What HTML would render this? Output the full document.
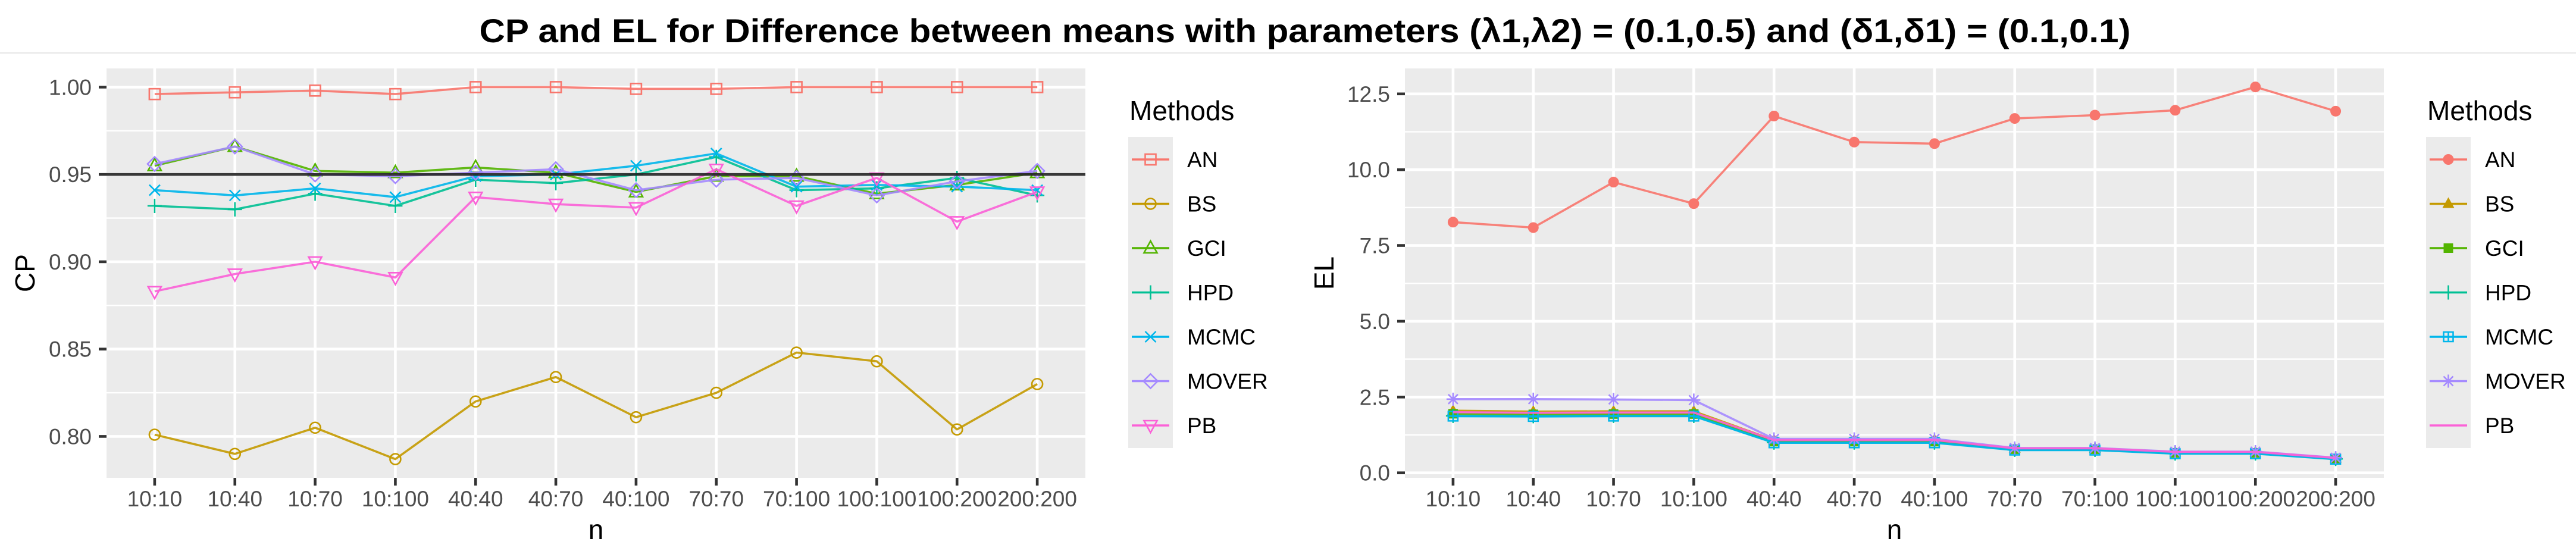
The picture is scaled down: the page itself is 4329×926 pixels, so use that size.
<!DOCTYPE html>
<html><head><meta charset="utf-8"><style>
html,body{margin:0;padding:0;background:#fff;}
svg{display:block;font-family:"Liberation Sans",Arial,sans-serif;}
</style></head><body>
<svg id="chart" width="4329" height="926" viewBox="0 0 4329 926" xmlns="http://www.w3.org/2000/svg">
<rect x="0" y="0" width="4329" height="926" fill="#fff"/>
<text x="2193" y="71" text-anchor="middle" font-size="56" font-weight="bold" textLength="2775" lengthAdjust="spacingAndGlyphs" fill="#000">CP and EL for Difference between means with parameters (λ1,λ2) = (0.1,0.5) and (δ1,δ1) = (0.1,0.1)</text>
<line x1="0" y1="89" x2="4329" y2="89" stroke="#e6e6e6" stroke-width="2"/>
<g id="left"></g>
<g id="right"></g>
</svg>
<script>
const categories = ["10:10","10:40","10:70","10:100","40:40","40:70","40:100","70:70","70:100","100:100","100:200","200:200"];
const methods = ["AN","BS","GCI","HPD","MCMC","MOVER","PB"];
const colors = ["#F8766D","#C49A00","#53B400","#00C094","#00B6EB","#A58AFF","#FB61D7"];
const cpAN    = [0.996,0.997,0.998,0.996,1.000,1.000,0.999,0.999,1.000,1.000,1.000,1.000];
const cpBS    = [0.801,0.790,0.805,0.787,0.820,0.834,0.811,0.825,0.848,0.843,0.804,0.830];
const cpGCI   = [0.955,0.966,0.952,0.951,0.954,0.951,0.940,0.949,0.949,0.939,0.944,0.951];
const cpHPD   = [0.932,0.930,0.939,0.932,0.947,0.945,0.950,0.960,0.941,0.942,0.948,0.938];
const cpMCMC  = [0.941,0.938,0.942,0.937,0.949,0.950,0.955,0.962,0.943,0.944,0.943,0.941];
const cpMOVER = [0.956,0.966,0.950,0.949,0.951,0.953,0.941,0.947,0.948,0.938,0.946,0.952];
const cpPB    = [0.883,0.893,0.900,0.891,0.937,0.933,0.931,0.953,0.932,0.948,0.923,0.940];
const elAN    = [8.27,8.09,9.59,8.88,11.77,10.91,10.86,11.69,11.80,11.96,12.73,11.93];
const elBS    = [2.05,2.02,2.03,2.03,1.08,1.08,1.08,0.80,0.80,0.68,0.68,0.48];
const elGCI   = [1.95,1.93,1.94,1.94,1.03,1.03,1.03,0.78,0.78,0.66,0.66,0.47];
const elHPD   = [1.88,1.87,1.88,1.88,1.00,1.00,1.00,0.76,0.76,0.64,0.64,0.46];
const elMCMC  = [1.87,1.86,1.87,1.87,0.99,0.99,0.99,0.75,0.75,0.63,0.63,0.45];
const elMOVER = [2.43,2.43,2.42,2.40,1.12,1.12,1.12,0.82,0.82,0.70,0.70,0.50];
const elPB    = [2.00,1.98,1.99,1.99,1.08,1.08,1.08,0.81,0.81,0.69,0.69,0.49];
const cpTicks = [0.80,0.85,0.90,0.95,1.00];
const cpTickLabels = ["0.80","0.85","0.90","0.95","1.00"];
const cpMinor = [0.825,0.875,0.925,0.975];
const elTicks = [0,2.5,5,7.5,10,12.5];
const elTickLabels = ["0.0","2.5","5.0","7.5","10.0","12.5"];
const elMinor = [1.25,3.75,6.25,8.75,11.25];
const cpRef = 0.95;

const NS = "http://www.w3.org/2000/svg";
function mk(parent, tag, attrs, text){
  const e = document.createElementNS(NS, tag);
  for (const k in attrs) e.setAttribute(k, attrs[k]);
  if (text !== undefined) e.textContent = text;
  parent.appendChild(e);
  return e;
}
function drawShape(g, shape, cx, cy, col){
  const s = {stroke: col, "stroke-width": 2.6, fill: "none"};
  if (shape === "sq") return mk(g,"rect",Object.assign({x:cx-9,y:cy-9,width:18,height:18},s));
  if (shape === "ci") return mk(g,"circle",Object.assign({cx:cx,cy:cy,r:9},s));
  if (shape === "tu") return mk(g,"polygon",Object.assign({points:`${cx},${cy-12} ${cx+11},${cy+8} ${cx-11},${cy+8}`},s));
  if (shape === "td") return mk(g,"polygon",Object.assign({points:`${cx},${cy+12} ${cx+11},${cy-8} ${cx-11},${cy-8}`},s));
  if (shape === "pl") return mk(g,"path",Object.assign({d:`M${cx-12},${cy}H${cx+12}M${cx},${cy-12}V${cy+12}`},s));
  if (shape === "x") return mk(g,"path",Object.assign({d:`M${cx-9},${cy-9}L${cx+9},${cy+9}M${cx-9},${cy+9}L${cx+9},${cy-9}`},s));
  if (shape === "di") return mk(g,"polygon",Object.assign({points:`${cx},${cy-12} ${cx+12},${cy} ${cx},${cy+12} ${cx-12},${cy}`},s));
  if (shape === "fc") return mk(g,"circle",{cx:cx,cy:cy,r:9,fill:col});
  if (shape === "ft") return mk(g,"polygon",{points:`${cx},${cy-11} ${cx+10},${cy+7} ${cx-10},${cy+7}`,fill:col});
  if (shape === "fs") return mk(g,"rect",{x:cx-8,y:cy-8,width:16,height:16,fill:col});
  if (shape === "sp") return mk(g,"path",Object.assign({d:`M${cx-8},${cy-8}h16v16h-16zM${cx-8},${cy}H${cx+8}M${cx},${cy-8}V${cy+8}`},s));
  if (shape === "as") return mk(g,"path",Object.assign({d:`M${cx-11},${cy}H${cx+11}M${cx},${cy-11}V${cy+11}M${cx-8},${cy-8}L${cx+8},${cy+8}M${cx-8},${cy+8}L${cx+8},${cy-8}`},s));
  return null;
}

function panel(g, cfg){
  const L=cfg.left, R=cfg.right, T=115, B=803;
  const n = categories.length;
  const xs = (i)=> L + (R-L)*(0.6 + i)/(n + 0.2);
  const ys = (v)=> B - (v - cfg.ymin)/(cfg.ymax - cfg.ymin)*(B-T);
  const bg = mk(g,"rect",{x:L,y:T,width:R-L,height:B-T,fill:"#EBEBEB"});
  
  
  cfg.minor.forEach(v=>{
    const l = mk(g,"line",{x1:L,x2:R,y1:ys(v),y2:ys(v),stroke:"#fff","stroke-width":2.4});
    
    
  });
  cfg.ticks.forEach((v,i)=>{
    const y = ys(v);
    const l = mk(g,"line",{x1:L,x2:R,y1:y,y2:y,stroke:"#fff","stroke-width":4.6});
    
    
    const t = mk(g,"line",{x1:L-13,x2:L,y1:y,y2:y,stroke:"#333","stroke-width":4.6});
    
    
    const tx = mk(g,"text",{x:L-25,y:y+13,"text-anchor":"end","font-size":37,fill:"#4D4D4D"},cfg.tickLabels[i]);
    
    
  });
  categories.forEach((c,i)=>{
    const x = xs(i);
    const l = mk(g,"line",{x1:x,x2:x,y1:T,y2:B,stroke:"#fff","stroke-width":4.6});
    
    
    const t = mk(g,"line",{x1:x,x2:x,y1:B,y2:B+13,stroke:"#333","stroke-width":4.6});
    
    
    const tx = mk(g,"text",{x:x,y:851,"text-anchor":"middle","font-size":37,fill:"#4D4D4D"},c);
    
    
  });
  cfg.series.forEach((vals,k)=>{
    const col = colors[k];
    const sg = mk(g,"g",{});
    
    
    const pts = vals.map((v,i)=> xs(i).toFixed(1)+","+ys(v).toFixed(1)).join(" ");
    const pl = mk(sg,"polyline",{points:pts,fill:"none",stroke:col,"stroke-width":3.6,"stroke-linejoin":"round","stroke-opacity":0.9});
    
    
    if (cfg.shapes[k]) vals.forEach((v,i)=>{
      const p = drawShape(sg, cfg.shapes[k], xs(i), ys(v), col);
      
      
    });
  });
  if (cfg.ref !== undefined){
    const hl = mk(g,"line",{x1:L,x2:R,y1:ys(cfg.ref),y2:ys(cfg.ref),stroke:"#222","stroke-width":4.6,"stroke-opacity":0.9});
    
    
  }
  const yt = mk(g,"text",{x:0,y:0,"text-anchor":"middle","font-size":46,fill:"#000",transform:`translate(${cfg.ytitleX},459) rotate(-90)`},cfg.ytitle);
  
  
  const xt = mk(g,"text",{x:(L+R)/2,y:906,"text-anchor":"middle","font-size":46,fill:"#000"},"n");
  
  
  // legend
  const lg = mk(g,"g",{});
  
  
  const LX = cfg.legendX;
  const lt = mk(lg,"text",{x:LX+2,y:202,"font-size":46,fill:"#000"},"Methods");
  
  
  const kb = mk(lg,"rect",{x:LX,y:230,width:75,height:523,fill:"#EBEBEB"});
  
  
  methods.forEach((m,k)=>{
    const cy = 268 + k*74.5;
    const eg = mk(lg,"g",{});
    
    
    mk(eg,"line",{x1:LX+6,x2:LX+69,y1:cy,y2:cy,stroke:colors[k],"stroke-width":3.6});
    if (cfg.shapes[k]) drawShape(eg, cfg.shapes[k], LX+37.5, cy, colors[k]);
    mk(eg,"text",{x:LX+99,y:cy+13,"font-size":37,fill:"#000"},m);
  });
}

panel(document.getElementById("left"),{
  left:179, right:1824, ymin:0.7763, ymax:1.0107,
  ticks:cpTicks, tickLabels:cpTickLabels, minor:cpMinor,
  series:[cpAN,cpBS,cpGCI,cpHPD,cpMCMC,cpMOVER,cpPB],
  shapes:["sq","ci","tu","pl","x","di","td"],
  ref:cpRef, ytitle:"CP", ytitleX:58, legendX:1896
});
panel(document.getElementById("right"),{
  left:2361, right:4006, ymin:-0.164, ymax:13.34,
  ticks:elTicks, tickLabels:elTickLabels, minor:elMinor,
  series:[elAN,elBS,elGCI,elHPD,elMCMC,elMOVER,elPB],
  shapes:["fc","ft","fs","pl","sp","as",null],
  ytitle:"EL", ytitleX:2241, legendX:4077
});
</script>
</body></html>
